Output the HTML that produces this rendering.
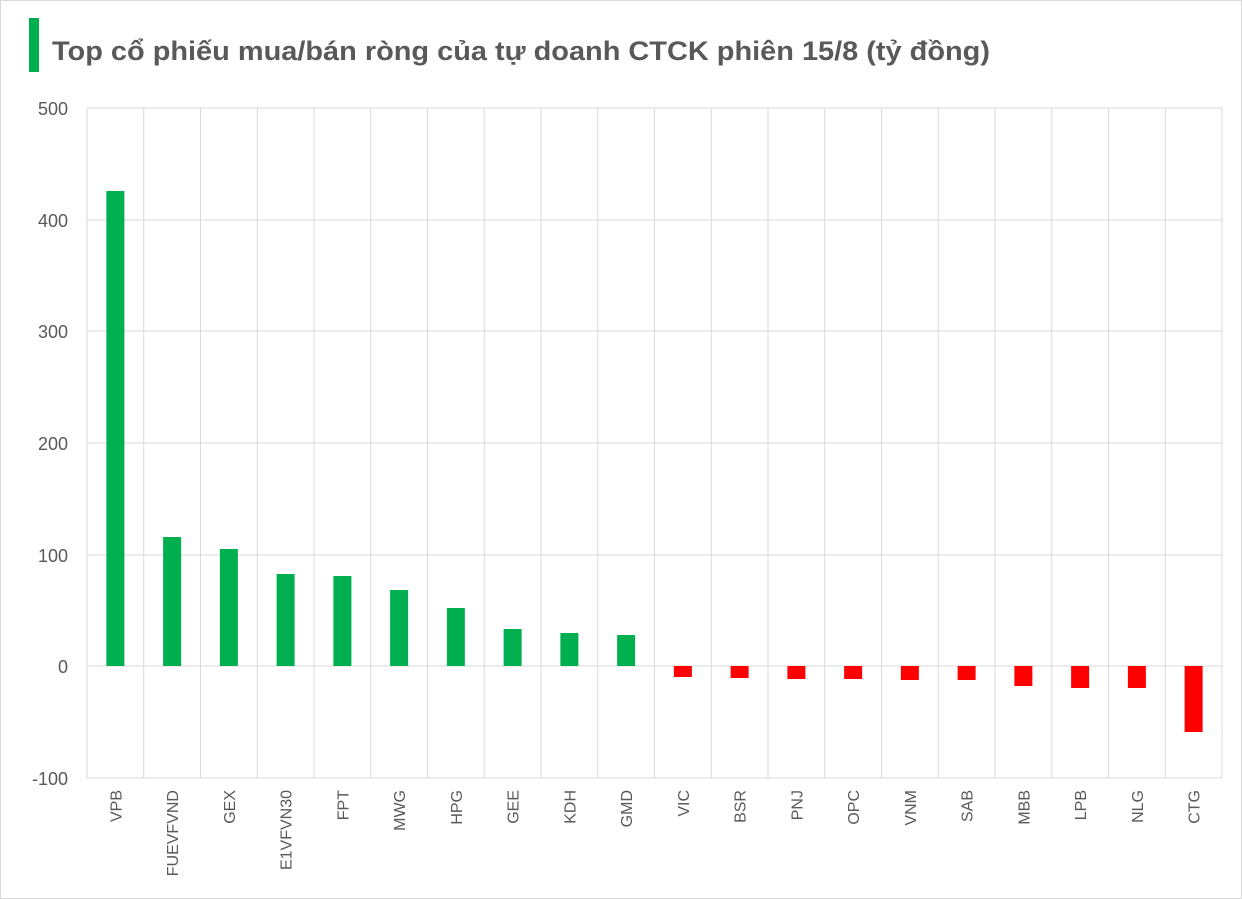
<!DOCTYPE html>
<html><head><meta charset="utf-8"><style>body{margin:0;background:#fff}svg{display:block}</style></head><body>
<svg width="1242" height="899" xmlns="http://www.w3.org/2000/svg" font-family="Liberation Sans, sans-serif">
<rect x="0.5" y="0.5" width="1241" height="898" fill="#fff" stroke="#d9d9d9"/>
<rect x="29" y="18" width="10" height="54" fill="#00b050"/>
<text x="52" y="60" font-size="27" font-weight="bold" fill="#595959" textLength="938" lengthAdjust="spacingAndGlyphs">Top cổ phiếu mua/bán ròng của tự doanh CTCK phiên 15/8 (tỷ đồng)</text>
<g stroke="#d9d9d9" stroke-width="1">
<line x1="87" y1="108" x2="1222" y2="108"/><line x1="87" y1="220" x2="1222" y2="220"/><line x1="87" y1="331" x2="1222" y2="331"/><line x1="87" y1="443" x2="1222" y2="443"/><line x1="87" y1="555" x2="1222" y2="555"/><line x1="87" y1="666" x2="1222" y2="666"/><line x1="87" y1="778" x2="1222" y2="778"/>
</g>
<g id="v" stroke="#d9d9d9"></g>
<g font-size="18" fill="#595959" text-anchor="end">
<text x="68" y="115">500</text><text x="68" y="227">400</text><text x="68" y="338">300</text><text x="68" y="450">200</text><text x="68" y="562">100</text><text x="68" y="673">0</text><text x="68" y="785">-100</text>
</g>
<g id="bars"></g>
<script>
var names=["VPB","FUEVFVND","GEX","E1VFVN30","FPT","MWG","HPG","GEE","KDH","GMD","VIC","BSR","PNJ","OPC","VNM","SAB","MBB","LPB","NLG","CTG"];
var ends=[191,537,549,574,576,590,608,629,633,635,677,678,679,679,680,680,686,688,688,732];
var ns="http://www.w3.org/2000/svg",g=document.getElementById("bars"),v=document.getElementById("v");
var w=(1222-87)/20;
for(var i=0;i<=20;i++){var l=document.createElementNS(ns,"line");var x=87+i*w;l.setAttribute("x1",x);l.setAttribute("x2",x);l.setAttribute("y1",108);l.setAttribute("y2",778);v.appendChild(l);}
for(var i=0;i<20;i++){var c=87+w*(i+0.5);var r=document.createElementNS(ns,"rect");var y0=Math.min(666,ends[i]),y1=Math.max(666,ends[i]);
r.setAttribute("x",c-9);r.setAttribute("width",18);r.setAttribute("y",y0);r.setAttribute("height",y1-y0);r.setAttribute("fill",i<10?"#00b050":"#ff0000");g.appendChild(r);
var t=document.createElementNS(ns,"text");t.setAttribute("transform","translate("+(c+6)+",790) rotate(-90)");t.setAttribute("text-anchor","end");t.setAttribute("font-size","16");t.setAttribute("fill","#595959");t.textContent=names[i];g.appendChild(t);}
</script>
</svg>
</body></html>
